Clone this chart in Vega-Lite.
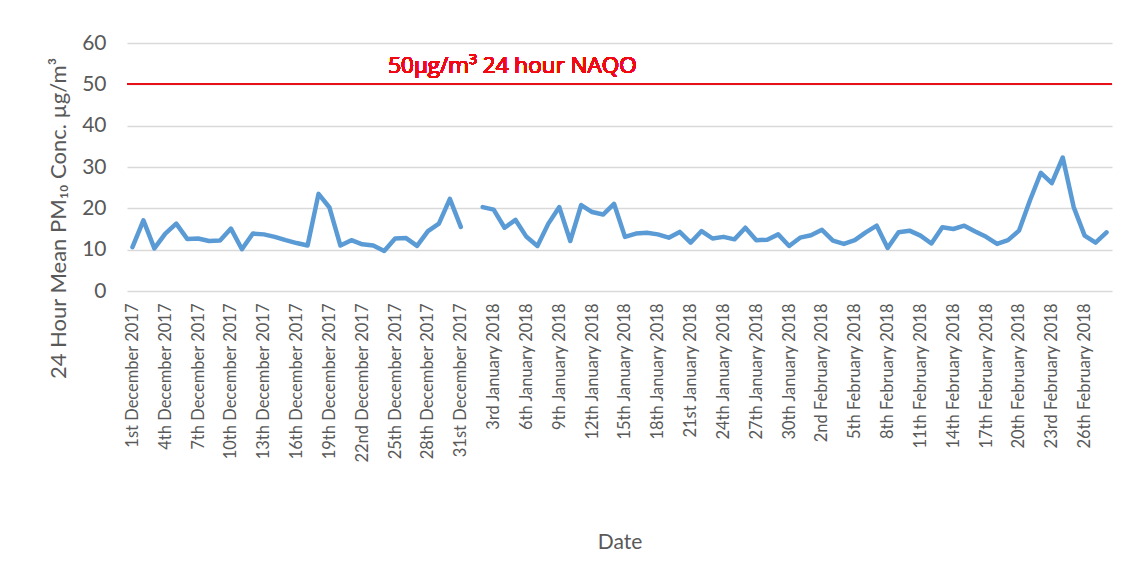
{
  "$schema": "https://vega.github.io/schema/vega-lite/v6.json",
  "width": 985,
  "height": 248,
  "autosize": "none",
  "padding": {"left": 127, "top": 43, "right": 13, "bottom": 290},
  "background": "white",
  "config": {"view": {"stroke": null}, "font": "Lato"},
  "data": {"values": [
    {"d": "1st December 2017", "v": 10.6},
    {"d": "2nd December 2017", "v": 17.1},
    {"d": "3rd December 2017", "v": 10.3},
    {"d": "4th December 2017", "v": 13.9},
    {"d": "5th December 2017", "v": 16.3},
    {"d": "6th December 2017", "v": 12.6},
    {"d": "7th December 2017", "v": 12.7},
    {"d": "8th December 2017", "v": 12.1},
    {"d": "9th December 2017", "v": 12.2},
    {"d": "10th December 2017", "v": 15.1},
    {"d": "11th December 2017", "v": 10.1},
    {"d": "12th December 2017", "v": 13.9},
    {"d": "13th December 2017", "v": 13.7},
    {"d": "14th December 2017", "v": 13.1},
    {"d": "15th December 2017", "v": 12.3},
    {"d": "16th December 2017", "v": 11.6},
    {"d": "17th December 2017", "v": 11.0},
    {"d": "18th December 2017", "v": 23.5},
    {"d": "19th December 2017", "v": 20.2},
    {"d": "20th December 2017", "v": 11.0},
    {"d": "21st December 2017", "v": 12.3},
    {"d": "22nd December 2017", "v": 11.3},
    {"d": "23rd December 2017", "v": 11.0},
    {"d": "24th December 2017", "v": 9.7},
    {"d": "25th December 2017", "v": 12.7},
    {"d": "26th December 2017", "v": 12.8},
    {"d": "27th December 2017", "v": 10.9},
    {"d": "28th December 2017", "v": 14.5},
    {"d": "29th December 2017", "v": 16.3},
    {"d": "30th December 2017", "v": 22.3},
    {"d": "31st December 2017", "v": 15.5},
    {"d": "1st January 2018", "v": null},
    {"d": "2nd January 2018", "v": 20.3},
    {"d": "3rd January 2018", "v": 19.7},
    {"d": "4th January 2018", "v": 15.3},
    {"d": "5th January 2018", "v": 17.2},
    {"d": "6th January 2018", "v": 13.1},
    {"d": "7th January 2018", "v": 10.9},
    {"d": "8th January 2018", "v": 16.3},
    {"d": "9th January 2018", "v": 20.3},
    {"d": "10th January 2018", "v": 12.1},
    {"d": "11th January 2018", "v": 20.8},
    {"d": "12th January 2018", "v": 19.1},
    {"d": "13th January 2018", "v": 18.5},
    {"d": "14th January 2018", "v": 21.1},
    {"d": "15th January 2018", "v": 13.1},
    {"d": "16th January 2018", "v": 13.9},
    {"d": "17th January 2018", "v": 14.1},
    {"d": "18th January 2018", "v": 13.7},
    {"d": "19th January 2018", "v": 12.9},
    {"d": "20th January 2018", "v": 14.3},
    {"d": "21st January 2018", "v": 11.7},
    {"d": "22nd January 2018", "v": 14.5},
    {"d": "23rd January 2018", "v": 12.7},
    {"d": "24th January 2018", "v": 13.1},
    {"d": "25th January 2018", "v": 12.5},
    {"d": "26th January 2018", "v": 15.3},
    {"d": "27th January 2018", "v": 12.3},
    {"d": "28th January 2018", "v": 12.4},
    {"d": "29th January 2018", "v": 13.7},
    {"d": "30th January 2018", "v": 10.9},
    {"d": "31st January 2018", "v": 12.9},
    {"d": "1st February 2018", "v": 13.5},
    {"d": "2nd February 2018", "v": 14.8},
    {"d": "3rd February 2018", "v": 12.2},
    {"d": "4th February 2018", "v": 11.4},
    {"d": "5th February 2018", "v": 12.3},
    {"d": "6th February 2018", "v": 14.2},
    {"d": "7th February 2018", "v": 15.8},
    {"d": "8th February 2018", "v": 10.4},
    {"d": "9th February 2018", "v": 14.2},
    {"d": "10th February 2018", "v": 14.6},
    {"d": "11th February 2018", "v": 13.4},
    {"d": "12th February 2018", "v": 11.5},
    {"d": "13th February 2018", "v": 15.4},
    {"d": "14th February 2018", "v": 15.0},
    {"d": "15th February 2018", "v": 15.8},
    {"d": "16th February 2018", "v": 14.4},
    {"d": "17th February 2018", "v": 13.1},
    {"d": "18th February 2018", "v": 11.4},
    {"d": "19th February 2018", "v": 12.3},
    {"d": "20th February 2018", "v": 14.6},
    {"d": "21st February 2018", "v": 21.9},
    {"d": "22nd February 2018", "v": 28.6},
    {"d": "23rd February 2018", "v": 26.1},
    {"d": "24th February 2018", "v": 32.3},
    {"d": "25th February 2018", "v": 20.3},
    {"d": "26th February 2018", "v": 13.4},
    {"d": "27th February 2018", "v": 11.7},
    {"d": "28th February 2018", "v": 14.2}
  ]},
  "layer": [
    {
      "mark": {"type": "line", "color": "#5b9bd5", "strokeWidth": 4.5, "strokeJoin": "round", "strokeCap": "round"},
      "encoding": {
        "x": {
          "field": "d", "type": "ordinal", "sort": null,
          "scale": {"type": "point", "padding": 0.5},
          "axis": {
            "title": "Date",
            "titleFont": "Lato", "titleFontSize": 21, "titleFontWeight": "normal", "titleColor": "#595959",
            "titleBaseline": "alphabetic", "titleY": 257,
            "labelFont": "Lato", "labelFontSize": 16.5, "labelColor": "#595959",
            "labelAngle": 270, "labelAlign": "right", "labelBaseline": "middle",
            "labelPadding": 12, "ticks": false, "tickSize": 0, "domain": false, "grid": false,
            "labelOverlap": false,
            "values": ["1st December 2017", "4th December 2017", "7th December 2017", "10th December 2017", "13th December 2017", "16th December 2017", "19th December 2017", "22nd December 2017", "25th December 2017", "28th December 2017", "31st December 2017", "3rd January 2018", "6th January 2018", "9th January 2018", "12th January 2018", "15th January 2018", "18th January 2018", "21st January 2018", "24th January 2018", "27th January 2018", "30th January 2018", "2nd February 2018", "5th February 2018", "8th February 2018", "11th February 2018", "14th February 2018", "17th February 2018", "20th February 2018", "23rd February 2018", "26th February 2018"]
          }
        },
        "y": {
          "field": "v", "type": "quantitative",
          "scale": {"domain": [0, 60], "nice": false},
          "axis": {
            "title": "24 Hour Mean  PM₁₀ Conc. µg/m³",
            "titleFont": "Lato", "titleFontSize": 22, "titleFontWeight": "normal", "titleColor": "#595959",
            "titleBaseline": "alphabetic", "titleX": -62, "titleY": 175,
            "labelFont": "Lato", "labelFontSize": 21, "labelColor": "#595959",
            "labelPadding": 21, "ticks": false, "tickSize": 0, "domain": false,
            "values": [0, 10, 20, 30, 40, 50, 60],
            "gridColor": "#d9d9d9", "gridWidth": 1.3
          }
        }
      }
    },
    {
      "mark": {"type": "rule", "color": "#e8101a", "strokeWidth": 1.1},
      "encoding": {"y": {"datum": 50, "type": "quantitative"}}
    },
    {
      "mark": {"type": "text", "text": "50µg/m³ 24 hour NAQO", "color": "#f00a14", "font": "Open Sans", "fontSize": 22.5, "fontWeight": 400, "align": "left", "baseline": "alphabetic", "dx": 4},
      "encoding": {
        "x": {"datum": "24th December 2017", "type": "ordinal"},
        "y": {"datum": 52.7, "type": "quantitative"}
      }
    }
  ]
}
